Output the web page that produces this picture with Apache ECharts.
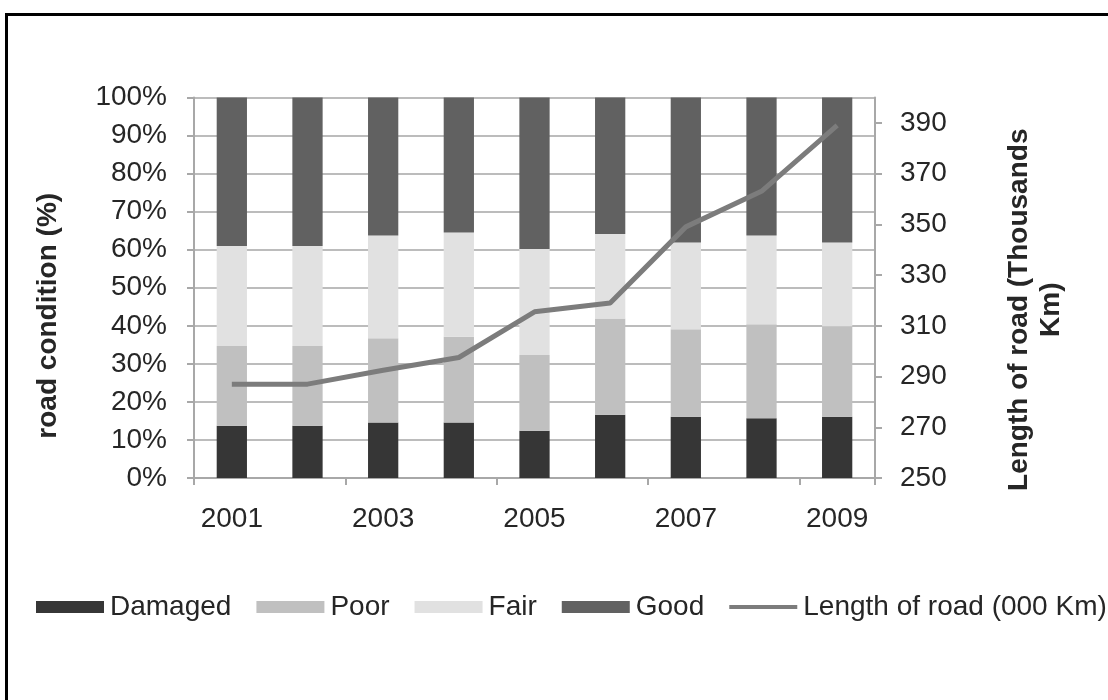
<!DOCTYPE html>
<html>
<head>
<meta charset="utf-8">
<script src="https://cdn.jsdelivr.net/npm/echarts@6/dist/echarts.min.js"></script>
<style>
  html, body { margin: 0; padding: 0; background: #fff; }
  #frame {
    position: absolute; left: 5px; top: 13px; width: 1103px; height: 687px;
    border-top: 3px solid #000; border-left: 3px solid #000; box-sizing: border-box;
  }
  #chart { position: absolute; left: 0; top: 0; width: 1108px; height: 700px; }
</style>
</head>
<body>
<div id="frame"></div>
<div id="chart"></div>
<script>
// Road condition shares (%) per year, stacked bottom to top
const years = ['2001', '2002', '2003', '2004', '2005', '2006', '2007', '2008', '2009'];
const damaged = [13.7, 13.7, 14.6, 14.6, 12.4, 16.6, 16.1, 15.7, 16.1];
const poor    = [21.0, 21.0, 22.1, 22.5, 19.9, 25.3, 23.0, 24.7, 23.8];
const fair    = [26.3, 26.3, 27.0, 27.4, 27.9, 22.2, 22.8, 23.3, 22.0];
const good    = [39.0, 39.0, 36.3, 35.5, 39.8, 35.9, 38.1, 36.3, 38.1];
// Total road length, thousands of km
const roadLength = [287, 287, 292.5, 297.5, 315.5, 319, 349, 363, 389];
// Right axis tick labels
const lengthTicks = [250, 270, 290, 310, 330, 350, 370, 390];

const FONT = "'Liberation Sans', Arial, sans-serif";
const TEXT = '#262626';
const AXIS = '#a8a8a8';
const FS = 28;

const chart = echarts.init(document.getElementById('chart'), null, { renderer: 'canvas' });

function barSeries(name, data, color) {
  return {
    name: name, type: 'bar', stack: 'condition', data: data,
    barWidth: '40%',
    itemStyle: { color: color },
    emphasis: { disabled: true }
  };
}

chart.setOption({
  animation: false,
  backgroundColor: 'transparent',
  textStyle: { fontFamily: FONT },
  grid: { left: 194, right: 233, top: 97.5, bottom: 222, containLabel: false },
  legend: {
    left: 36, top: 593, padding: 0,
    itemWidth: 68, itemHeight: 12, itemGap: 25, symbolKeepAspect: true,
    textStyle: { fontSize: FS, color: TEXT, fontFamily: FONT, padding: [0, 0, 0, 1] },
    data: [
      { name: 'Damaged', icon: 'rect' },
      { name: 'Poor', icon: 'rect' },
      { name: 'Fair', icon: 'rect' },
      { name: 'Good', icon: 'rect' },
      // thin bar used as the line swatch
      { name: 'Length of road (000 Km)', icon: 'path://M0,0H68V4H0Z' }
    ]
  },
  xAxis: {
    type: 'category', data: years, boundaryGap: true,
    axisLine: { lineStyle: { color: AXIS, width: 2 } },
    axisTick: { show: true, interval: 1, length: 7, lineStyle: { color: AXIS, width: 2 } },
    axisLabel: { interval: 1, fontSize: FS, color: TEXT, margin: 27, fontFamily: FONT },
    splitLine: { show: false }
  },
  yAxis: [
    {
      type: 'value', min: 0, max: 100, interval: 10, position: 'left',
      name: 'road condition (%)', nameLocation: 'middle', nameGap: 132, nameRotate: 90,
      nameTextStyle: { fontSize: FS, fontWeight: 'bold', color: TEXT, fontFamily: FONT, padding: [0, 56, 0, 0] },
      axisLine: { show: true, lineStyle: { color: AXIS, width: 2 } },
      axisTick: { show: true, inside: false, length: 7, lineStyle: { color: AXIS, width: 2 } },
      axisLabel: { formatter: '{value}%', fontSize: FS, color: TEXT, margin: 27, fontFamily: FONT },
      splitLine: { show: true, lineStyle: { color: '#bcbcbc', width: 2 } }
    },
    {
      type: 'value', min: 250, max: 400, position: 'right',
      name: 'Length of road (Thousands\nKm)', nameLocation: 'middle', nameGap: 128, nameRotate: 90,
      nameTextStyle: { fontSize: FS, fontWeight: 'bold', color: TEXT, fontFamily: FONT, lineHeight: 32, padding: [0, 44, 0, 0] },
      axisLine: { show: true, lineStyle: { color: AXIS, width: 2 } },
      axisTick: { show: true, length: 7, lineStyle: { color: AXIS, width: 2 }, customValues: lengthTicks },
      axisLabel: { fontSize: FS, color: TEXT, margin: 25, fontFamily: FONT, customValues: lengthTicks },
      splitLine: { show: false }
    }
  ],
  series: [
    barSeries('Damaged', damaged, '#363636'),
    barSeries('Poor', poor, '#c0c0c0'),
    barSeries('Fair', fair, '#e1e1e1'),
    barSeries('Good', good, '#616161'),
    {
      name: 'Length of road (000 Km)', type: 'line', yAxisIndex: 1,
      data: roadLength, symbol: 'none', z: 5,
      lineStyle: { color: '#7c7c7c', width: 5 },
      itemStyle: { color: '#7c7c7c' },
      emphasis: { disabled: true }
    }
  ]
});
</script>
</body>
</html>
